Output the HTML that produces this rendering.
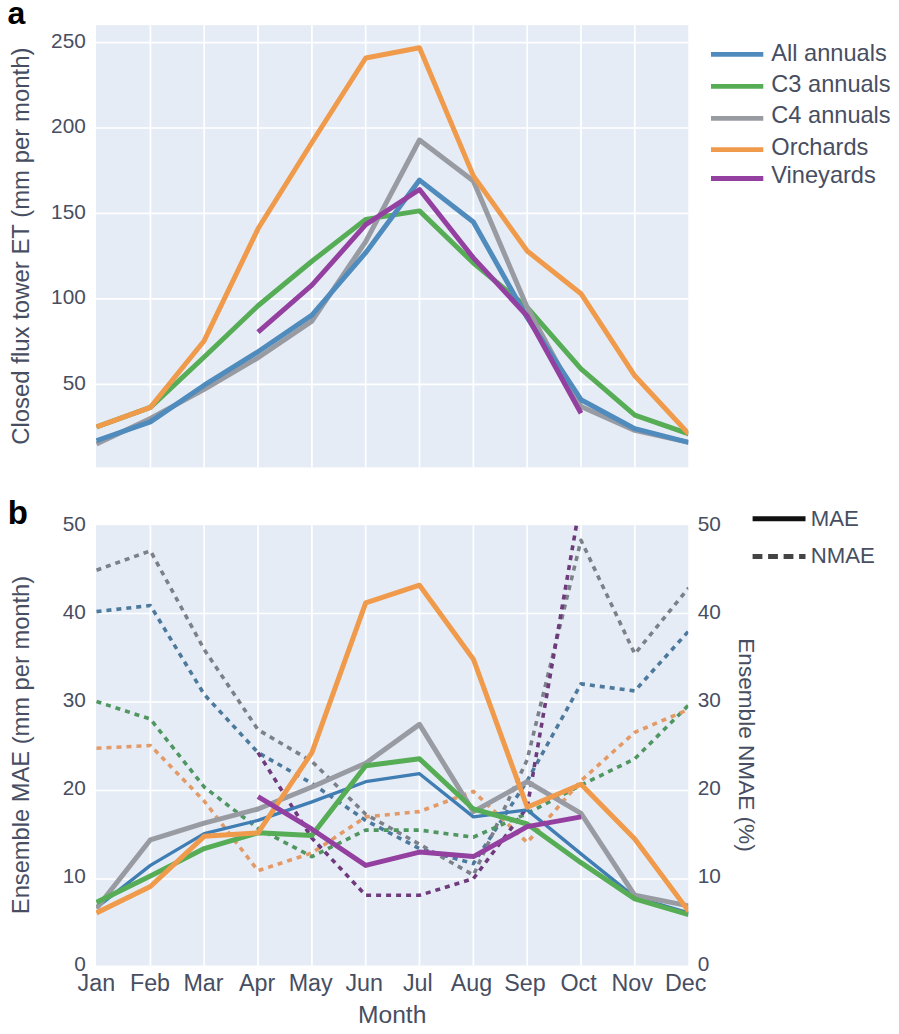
<!DOCTYPE html><html><head><meta charset="utf-8"><style>
html,body{margin:0;padding:0;background:#fff;}
svg{display:block;}
text{font-family:'Liberation Sans',sans-serif;fill:#474e62;}
</style></head><body>
<svg width="899" height="1034" viewBox="0 0 899 1034">
<defs><clipPath id="ca"><rect x="96.0" y="25.2" width="592.3" height="442.2"/></clipPath>
<clipPath id="cb"><rect x="96.0" y="525.2" width="592.3" height="440.3"/></clipPath></defs>
<rect width="899" height="1034" fill="#fff"/>
<rect x="96.0" y="25.2" width="592.3" height="442.2" fill="#e5ecf6"/>
<path d="M150.4,25.2 V467.4 M204.2,25.2 V467.4 M258.0,25.2 V467.4 M311.9,25.2 V467.4 M365.7,25.2 V467.4 M419.5,25.2 V467.4 M473.4,25.2 V467.4 M527.2,25.2 V467.4 M581.0,25.2 V467.4 M634.8,25.2 V467.4 M96.0,384.3 H688.3 M96.0,298.9 H688.3 M96.0,213.4 H688.3 M96.0,128.0 H688.3 M96.0,42.6 H688.3" stroke="#fff" stroke-width="1.7" fill="none"/>
<rect x="96.0" y="525.2" width="592.3" height="440.3" fill="#e5ecf6"/>
<path d="M150.4,525.2 V965.5 M204.2,525.2 V965.5 M258.0,525.2 V965.5 M311.9,525.2 V965.5 M365.7,525.2 V965.5 M419.5,525.2 V965.5 M473.4,525.2 V965.5 M527.2,525.2 V965.5 M581.0,525.2 V965.5 M634.8,525.2 V965.5 M96.0,879.0 H688.3 M96.0,790.5 H688.3 M96.0,702.0 H688.3 M96.0,613.5 H688.3" stroke="#fff" stroke-width="1.7" fill="none"/>
<g clip-path="url(#ca)" fill="none" stroke-width="5" stroke-linejoin="round" stroke-linecap="butt" opacity="1">
<path d="M96.5,427.0 L150.4,407.4 L204.2,357.0 L258.0,305.7 L311.9,261.3 L365.7,219.4 L419.5,210.9 L473.4,263.0 L527.2,307.4 L581.0,368.9 L634.8,415.1 L688.7,433.8" stroke="#56ad56"/>
<path d="M96.5,444.1 L150.4,418.5 L204.2,389.4 L258.0,357.8 L311.9,321.1 L365.7,241.6 L419.5,140.0 L473.4,181.0 L527.2,307.4 L581.0,406.5 L634.8,430.4 L688.7,442.4" stroke="#999ba2"/>
<path d="M96.5,440.7 L150.4,421.9 L204.2,385.2 L258.0,351.8 L311.9,315.1 L365.7,252.7 L419.5,180.1 L473.4,222.0 L527.2,317.7 L581.0,399.7 L634.8,428.7 L688.7,442.4" stroke="#4f8bbc"/>
<path d="M96.5,427.0 L150.4,407.4 L204.2,340.7 L258.0,228.8 L311.9,142.5 L365.7,58.0 L419.5,47.7 L473.4,175.9 L527.2,251.0 L581.0,293.7 L634.8,375.8 L688.7,433.8" stroke="#f09a4c"/>
<path d="M258.0,332.2 L311.9,285.2 L365.7,224.7 L419.5,189.5 L473.4,257.9 L527.2,316.0 L581.0,413.3" stroke="#9440a0"/>
</g>
<g clip-path="url(#cb)" fill="none" stroke-linejoin="round">
<path d="M96.5,611.6 L150.4,605.5 L204.2,694.4 L258.0,752.6 L311.9,783.4 L365.7,820.4 L419.5,848.6 L473.4,863.6 L527.2,780.8 L581.0,683.9 L634.8,690.9 L688.7,631.0" stroke="#4d7a9c" stroke-width="3.6" stroke-dasharray="5,5"/>
<path d="M96.5,570.2 L150.4,550.8 L204.2,649.5 L258.0,729.7 L311.9,761.4 L365.7,814.3 L419.5,844.2 L473.4,875.1 L527.2,759.6 L581.0,540.3 L634.8,653.9 L688.7,587.8" stroke="#7c8088" stroke-width="3.6" stroke-dasharray="5,5"/>
<path d="M96.5,701.5 L150.4,719.1 L204.2,787.0 L258.0,828.4 L311.9,856.6 L365.7,830.1 L419.5,830.1 L473.4,837.2 L527.2,813.4 L581.0,785.2 L634.8,758.8 L688.7,705.0" stroke="#4f9660" stroke-width="3.6" stroke-dasharray="5,5"/>
<path d="M96.5,748.2 L150.4,745.5 L204.2,801.1 L258.0,870.7 L311.9,853.0 L365.7,816.9 L419.5,811.6 L473.4,791.4 L527.2,842.5 L581.0,780.8 L634.8,732.3 L688.7,709.4" stroke="#e39a66" stroke-width="3.6" stroke-dasharray="5,5"/>
<path d="M258.0,752.6 L311.9,838.1 L365.7,895.3 L419.5,895.3 L473.4,878.6 L527.2,807.2 L581.0,498.9" stroke="#6e3a7c" stroke-width="3.6" stroke-dasharray="5,5"/>
<path d="M96.5,907.7 L150.4,865.4 L204.2,833.6 L258.0,820.4 L311.9,801.9 L365.7,781.7 L419.5,773.7 L473.4,816.9 L527.2,809.9 L581.0,853.9 L634.8,897.1 L688.7,912.9" stroke="#3f7db3" stroke-width="3.3"/>
<path d="M96.5,908.5 L150.4,839.8 L204.2,823.1 L258.0,809.0 L311.9,787.0 L365.7,763.2 L419.5,724.4 L473.4,811.6 L527.2,781.7 L581.0,813.4 L634.8,895.3 L688.7,905.9" stroke="#999ba2" stroke-width="5"/>
<path d="M96.5,902.4 L150.4,875.9 L204.2,848.6 L258.0,832.8 L311.9,835.4 L365.7,765.8 L419.5,758.8 L473.4,809.0 L527.2,824.0 L581.0,862.7 L634.8,898.8 L688.7,914.7" stroke="#56ad56" stroke-width="5"/>
<path d="M96.5,912.9 L150.4,886.5 L204.2,836.3 L258.0,832.8 L311.9,752.6 L365.7,602.8 L419.5,585.2 L473.4,659.2 L527.2,807.2 L581.0,784.3 L634.8,838.9 L688.7,911.2" stroke="#f09a4c" stroke-width="5"/>
<path d="M258.0,796.6 L311.9,829.2 L365.7,865.4 L419.5,852.1 L473.4,856.6 L527.2,826.6 L581.0,816.9" stroke="#9440a0" stroke-width="5"/>
</g>
<text x="85.8" y="389.7" font-size="20.8" text-anchor="end">50</text>
<text x="85.8" y="304.3" font-size="20.8" text-anchor="end">100</text>
<text x="85.8" y="218.8" font-size="20.8" text-anchor="end">150</text>
<text x="85.8" y="133.4" font-size="20.8" text-anchor="end">200</text>
<text x="85.8" y="48.0" font-size="20.8" text-anchor="end">250</text>
<text x="85.8" y="971.1" font-size="20.8" text-anchor="end">0</text>
<text x="697.8" y="971.1" font-size="20.8">0</text>
<text x="85.8" y="883.1" font-size="20.8" text-anchor="end">10</text>
<text x="697.8" y="883.1" font-size="20.8">10</text>
<text x="85.8" y="795.1" font-size="20.8" text-anchor="end">20</text>
<text x="697.8" y="795.1" font-size="20.8">20</text>
<text x="85.8" y="707.1" font-size="20.8" text-anchor="end">30</text>
<text x="697.8" y="707.1" font-size="20.8">30</text>
<text x="85.8" y="619.1" font-size="20.8" text-anchor="end">40</text>
<text x="697.8" y="619.1" font-size="20.8">40</text>
<text x="85.8" y="531.1" font-size="20.8" text-anchor="end">50</text>
<text x="697.8" y="531.1" font-size="20.8">50</text>
<text x="96.4" y="990.7" font-size="23.3" text-anchor="middle">Jan</text>
<text x="150.0" y="990.7" font-size="23.3" text-anchor="middle">Feb</text>
<text x="203.5" y="990.7" font-size="23.3" text-anchor="middle">Mar</text>
<text x="257.1" y="990.7" font-size="23.3" text-anchor="middle">Apr</text>
<text x="310.7" y="990.7" font-size="23.3" text-anchor="middle">May</text>
<text x="364.2" y="990.7" font-size="23.3" text-anchor="middle">Jun</text>
<text x="417.8" y="990.7" font-size="23.3" text-anchor="middle">Jul</text>
<text x="471.4" y="990.7" font-size="23.3" text-anchor="middle">Aug</text>
<text x="525.0" y="990.7" font-size="23.3" text-anchor="middle">Sep</text>
<text x="578.5" y="990.7" font-size="23.3" text-anchor="middle">Oct</text>
<text x="632.1" y="990.7" font-size="23.3" text-anchor="middle">Nov</text>
<text x="685.7" y="990.7" font-size="23.3" text-anchor="middle">Dec</text>
<text x="392.2" y="1023.1" font-size="24.6" text-anchor="middle">Month</text>
<text transform="translate(28.7,246.2) rotate(-90)" font-size="23.95" text-anchor="middle">Closed flux tower ET (mm per month)</text>
<text transform="translate(28.5,745) rotate(-90)" font-size="23.7" text-anchor="middle">Ensemble MAE (mm per month)</text>
<text transform="translate(738.9,745) rotate(90)" font-size="22.6" text-anchor="middle">Ensemble NMAE (%)</text>
<text x="7.6" y="24.2" font-size="32" font-weight="bold" style="fill:#000">a</text>
<text x="7.8" y="524.4" font-size="33" font-weight="bold" style="fill:#000">b</text>
<line x1="711" y1="54.3" x2="763.3" y2="54.3" stroke="#4f8bbc" stroke-width="4.8"/>
<text x="771.3" y="60.5" font-size="23.6">All annuals</text>
<line x1="711" y1="86.3" x2="763.3" y2="86.3" stroke="#56ad56" stroke-width="4.8"/>
<text x="771.3" y="92.2" font-size="23.6">C3 annuals</text>
<line x1="711" y1="118.3" x2="763.3" y2="118.3" stroke="#999ba2" stroke-width="4.8"/>
<text x="771.3" y="123.4" font-size="23.6">C4 annuals</text>
<line x1="711" y1="149.6" x2="763.3" y2="149.6" stroke="#f09a4c" stroke-width="4.8"/>
<text x="771.3" y="154.7" font-size="23.6">Orchards</text>
<line x1="711" y1="178.5" x2="763.3" y2="178.5" stroke="#9440a0" stroke-width="4.8"/>
<text x="771.3" y="183.3" font-size="23.6">Vineyards</text>
<line x1="752.6" y1="518.8" x2="805.5" y2="518.8" stroke="#111" stroke-width="4.9"/>
<text x="810.8" y="525.6" font-size="22.2">MAE</text>
<line x1="752.6" y1="556.5" x2="805.5" y2="556.5" stroke="#444" stroke-width="4.9" stroke-dasharray="9.8,5.7"/>
<text x="810.8" y="562.9" font-size="22.2">NMAE</text>
</svg></body></html>
